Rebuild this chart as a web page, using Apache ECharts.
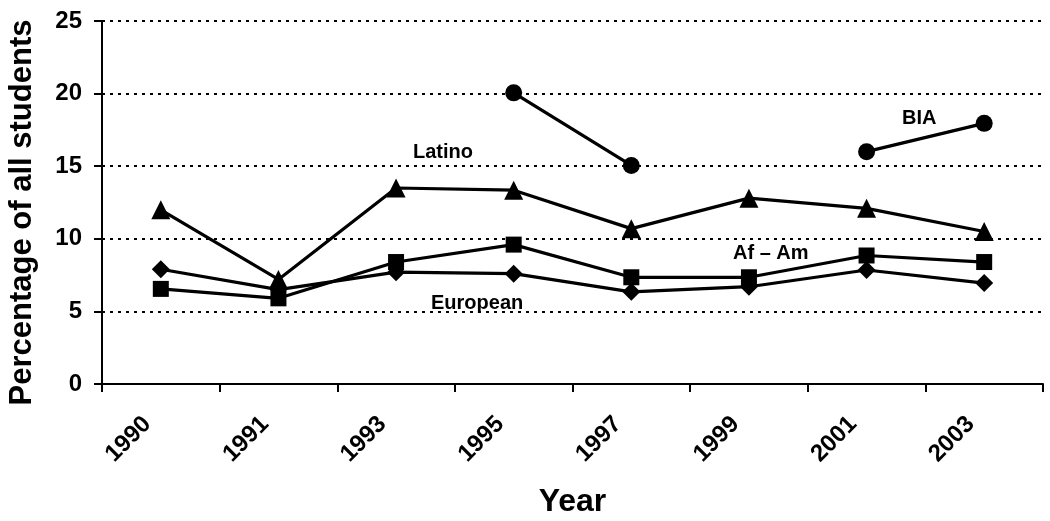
<!DOCTYPE html>
<html>
<head>
<meta charset="utf-8">
<script src="https://cdn.jsdelivr.net/npm/echarts@6/dist/echarts.min.js"></script>
<style>
  html, body { margin: 0; padding: 0; background: #fff; }
  #chart { width: 1050px; height: 521px; }
</style>
</head>
<body>
<div id="chart"></div>
<script>
// 年份
var years = ['1990', '1991', '1993', '1995', '1997', '1999', '2001', '2003'];
// 各族裔比例
var latino = [12.0, 7.2, 13.5, 13.35, 10.7, 12.8, 12.1, 10.5];
var afAm = [6.55, 5.9, 8.4, 9.6, 7.35, 7.35, 8.85, 8.4];
var european = [7.9, 6.5, 7.7, 7.6, 6.35, 6.7, 7.85, 6.95];
var bia = [null, null, null, 20.05, 15.05, null, 16.0, 17.95];
var yTicks = [0, 5, 10, 15, 20, 25];

var font = "'Liberation Sans', Arial, sans-serif";
var chart = echarts.init(document.getElementById('chart'));

function line(name, data, symbol, size) {
    return {
        name: name,
        type: 'line',
        data: data,
        symbol: symbol,
        symbolSize: size,
        connectNulls: false,
        lineStyle: { color: '#000', width: 3.2 },
        itemStyle: { color: '#000' },
        z: 3
    };
}

var option = {
    animation: false,
    backgroundColor: '#fff',
    grid: { left: 102, right: 7, top: 21, bottom: 137, outerBoundsMode: 'none' },
    xAxis: {
        type: 'category',
        data: years,
        boundaryGap: true,
        axisLine: { lineStyle: { color: '#000', width: 2 } },
        axisTick: { show: true, length: 8, lineStyle: { color: '#000', width: 2 } },
        axisLabel: {
            rotate: 45, margin: 23, padding: [0, 19, 0, 0], color: '#000',
            fontFamily: font, fontWeight: 'bold', fontSize: 24
        },
        name: 'Year',
        nameLocation: 'middle',
        nameGap: 102,
        nameTextStyle: { fontFamily: font, fontWeight: 'bold', fontSize: 32, color: '#000' }
    },
    yAxis: {
        type: 'value',
        min: yTicks[0],
        max: yTicks[yTicks.length - 1],
        interval: 5,
        axisLine: { show: true, lineStyle: { color: '#000', width: 2 } },
        axisTick: { show: true, length: 8, lineStyle: { color: '#000', width: 2 } },
        axisLabel: {
            margin: 20, color: '#000',
            fontFamily: font, fontWeight: 'bold', fontSize: 24
        },
        splitLine: { show: true, lineStyle: { color: '#000', type: [3, 5], width: 2 } },
        name: 'Percentage of all students',
        nameLocation: 'middle',
        nameGap: 64,
        nameTextStyle: {
            fontFamily: font, fontWeight: 'bold', fontSize: 31, color: '#000',
            padding: [0, 20, 0, 0]
        }
    },
    series: [
        line('Latino', latino, 'triangle', 19),
        line('Af - Am', afAm, 'rect', 16),
        line('European', european, 'diamond', 18),
        line('BIA', bia, 'circle', 17)
    ],
    graphic: [
        { type: 'text', left: 413, top: 142, style: { text: 'Latino', font: 'bold 20px ' + font, fill: '#000' } },
        { type: 'text', left: 431, top: 293, style: { text: 'European', font: 'bold 20px ' + font, fill: '#000' } },
        { type: 'text', left: 733, top: 243, style: { text: 'Af – Am', font: 'bold 20px ' + font, fill: '#000' } },
        { type: 'text', left: 902, top: 108, style: { text: 'BIA', font: 'bold 20px ' + font, fill: '#000' } }
    ]
};
chart.setOption(option);
</script>
</body>
</html>
